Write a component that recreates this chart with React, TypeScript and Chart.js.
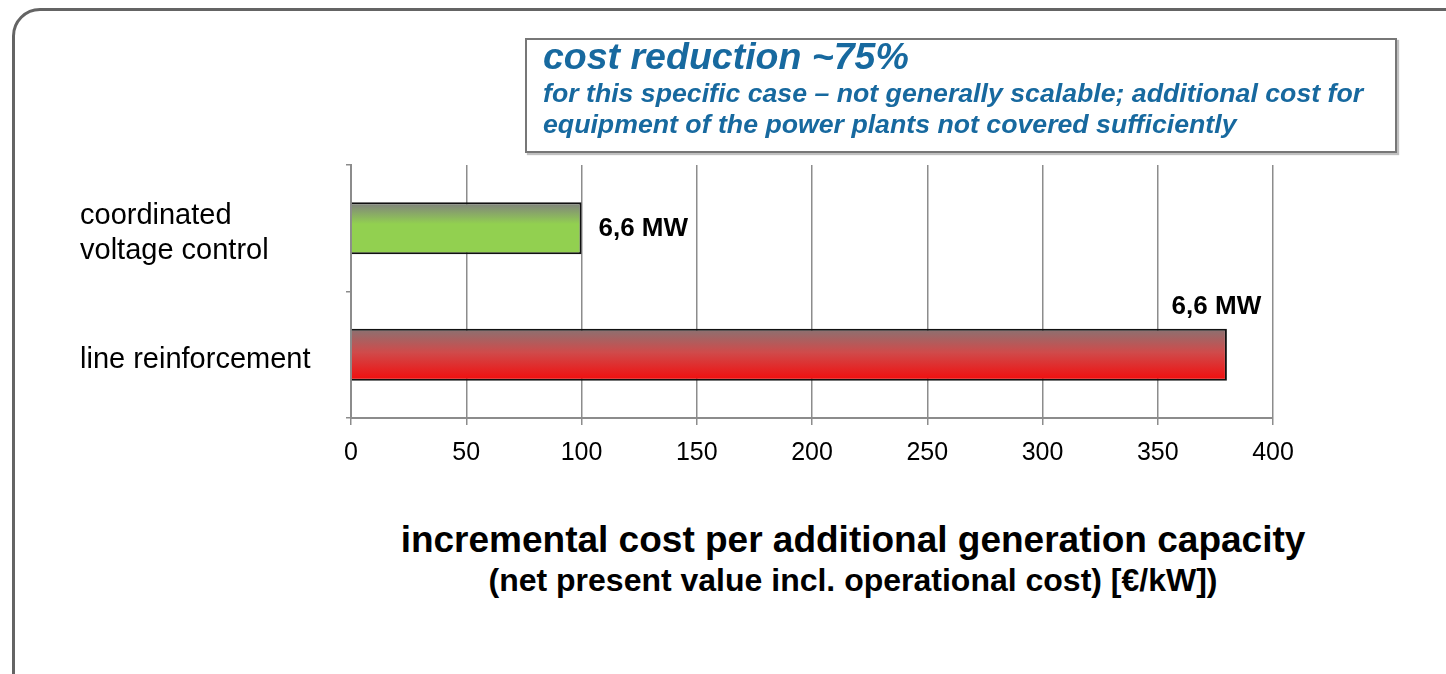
import React, { useEffect, useRef } from "react";
import { Chart, registerables } from "chart.js";

Chart.register(...registerables);

// ---- data ----
const categories: (string | string[])[] = [["coordinated", "voltage control"], "line reinforcement"];
const costValues: number[] = [100, 380];
const capacityLabels: string[] = ["6,6 MW", "6,6 MW"];
const xMin = 0;
const xMax = 400;
const xStep = 50;

const annotationTitle = "cost reduction ~75%";
const annotationLines = [
  "for this specific case \u2013 not generally scalable; additional cost for",
  "equipment of the power plants not covered sufficiently",
];
const axisTitle = "incremental cost per additional generation capacity";
const axisSubtitle = "(net present value incl. operational cost) [\u20ac/kW])";

// ---- styles ----
const FONT = "'Liberation Sans', Arial, Helvetica, sans-serif";
const gradientStops: [number, string][][] = [
  [
    [0, "#7f7f7f"],
    [0.42, "#92d050"],
    [1, "#92d050"],
  ],
  [
    [0, "#8a7272"],
    [0.45, "#cf4b4b"],
    [1, "#f20c0c"],
  ],
];

const labelPlugin = {
  id: "barLabels",
  afterDatasetsDraw(chart: any) {
    const { ctx, chartArea } = chart;
    const meta = chart.getDatasetMeta(0);
    ctx.save();
    ctx.font = `bold 26px ${FONT}`;
    ctx.fillStyle = "#000";
    meta.data.forEach((bar: any, i: number) => {
      const text = capacityLabels[i];
      const w = ctx.measureText(text).width;
      const { x, y, height } = bar.getProps(["x", "y", "height"], true);
      if (x + 17 + w <= chartArea.right) {
        ctx.textAlign = "left";
        ctx.textBaseline = "middle";
        ctx.fillText(text, x + 17, y + 1);
      } else {
        ctx.textAlign = "center";
        ctx.textBaseline = "middle";
        ctx.fillText(text, x - 10.5, y - height / 2 - 22);
      }
    });
    ctx.restore();
  },
};

function BarChart() {
  const ref = useRef<HTMLCanvasElement | null>(null);
  useEffect(() => {
    if (!ref.current) return;
    const chart = new Chart(ref.current, {
      type: "bar",
      data: {
        labels: categories as any,
        datasets: [
          {
            data: costValues,
            backgroundColor: (c: any) => {
              const ch = c.chart;
              const ys = ch.scales && ch.scales.y;
              const idx = typeof c.dataIndex === "number" ? c.dataIndex : 0;
              const stops = gradientStops[idx % gradientStops.length];
              if (!ys || typeof c.dataIndex !== "number") return stops[1][1];
              const yc = ys.getPixelForValue(idx);
              const half = ((ys.height || 0) / categories.length) * 0.41 / 2;
              if (!isFinite(yc) || !isFinite(half) || half <= 0) return stops[1][1];
              const g = ch.ctx.createLinearGradient(0, yc - half, 0, yc + half);
              stops.forEach(([o, col]) => g.addColorStop(o, col));
              return g;
            },
            borderColor: "#111",
            borderWidth: 2,
            barPercentage: 0.41,
            categoryPercentage: 1,
          },
        ],
      },
      options: {
        indexAxis: "y",
        animation: false,
        responsive: true,
        maintainAspectRatio: false,
        layout: { padding: { left: 20, top: 25, right: 87, bottom: 0 } },
        plugins: {
          legend: { display: false },
          tooltip: { enabled: false },
          title: { display: false },
        },
        scales: {
          x: {
            type: "linear",
            min: xMin,
            max: xMax,
            ticks: {
              stepSize: xStep,
              color: "#000",
              font: { family: FONT, size: 25 },
              padding: 13,
            },
            grid: {
              color: "#8c8c8c",
              lineWidth: 1.5,
              tickLength: 7,
              drawTicks: true,
            },
            border: { display: true, color: "#8c8c8c", width: 2 },
            afterFit: (s: any) => {
              s.height = 62;
            },
          },
          y: {
            type: "category",
            ticks: {
              color: "#000",
              crossAlign: "far",
              labelOffset: 5,
              font: { family: FONT, size: 29, lineHeight: 1.2 },
            },
            grid: {
              display: true,
              drawOnChartArea: false,
              drawTicks: true,
              tickLength: 5,
              color: "#8c8c8c",
              lineWidth: 1.5,
              offset: true,
            },
            border: { display: true, color: "#8c8c8c", width: 2 },
            afterFit: (s: any) => {
              s.width = 271;
            },
          },
        },
      },
      plugins: [labelPlugin],
    } as any);
    return () => chart.destroy();
  }, []);
  return <canvas ref={ref} />;
}

export default function App() {
  const blue = "#17699f";
  return (
    <div
      style={{
        position: "absolute",
        left: 0,
        top: 0,
        width: 1446,
        height: 674,
        overflow: "hidden",
        background: "#fff",
        fontFamily: FONT,
      }}
    >
      <div
        style={{
          position: "absolute",
          left: 12,
          top: 8,
          width: 1600,
          height: 900,
          border: "3px solid #646464",
          borderRadius: 28,
          boxSizing: "border-box",
        }}
      />
      <div style={{ position: "absolute", left: 60, top: 140, width: 1300, height: 340 }}>
        <BarChart />
      </div>
      {/* annotation box */}
      <div
        style={{
          position: "absolute",
          left: 525,
          top: 38,
          width: 872,
          height: 115,
          border: "2px solid #777",
          boxShadow: "2px 2px 1px #c0c0c0",
          boxSizing: "border-box",
          background: "#fff",
        }}
      />
      <div
        style={{
          position: "absolute",
          left: 543,
          top: 38,
          fontSize: 37.5,
          lineHeight: "37.5px",
          fontWeight: "bold",
          fontStyle: "italic",
          color: blue,
          whiteSpace: "nowrap",
        }}
      >
        {annotationTitle}
      </div>
      {annotationLines.map((t, i) => (
        <div
          key={i}
          style={{
            position: "absolute",
            left: 543,
            top: 80 + i * 31,
            fontSize: 26.7,
            lineHeight: "26.7px",
            fontWeight: "bold",
            fontStyle: "italic",
            color: blue,
            whiteSpace: "nowrap",
          }}
        >
          {t}
        </div>
      ))}
      {/* axis title */}
      <div
        style={{
          position: "absolute",
          left: 853,
          top: 521,
          transform: "translateX(-50%)",
          fontSize: 37,
          lineHeight: "37px",
          fontWeight: "bold",
          color: "#000",
          whiteSpace: "nowrap",
        }}
      >
        {axisTitle}
      </div>
      <div
        style={{
          position: "absolute",
          left: 853,
          top: 564,
          transform: "translateX(-50%)",
          fontSize: 32,
          lineHeight: "32px",
          fontWeight: "bold",
          color: "#000",
          whiteSpace: "nowrap",
        }}
      >
        {axisSubtitle}
      </div>
    </div>
  );
}
